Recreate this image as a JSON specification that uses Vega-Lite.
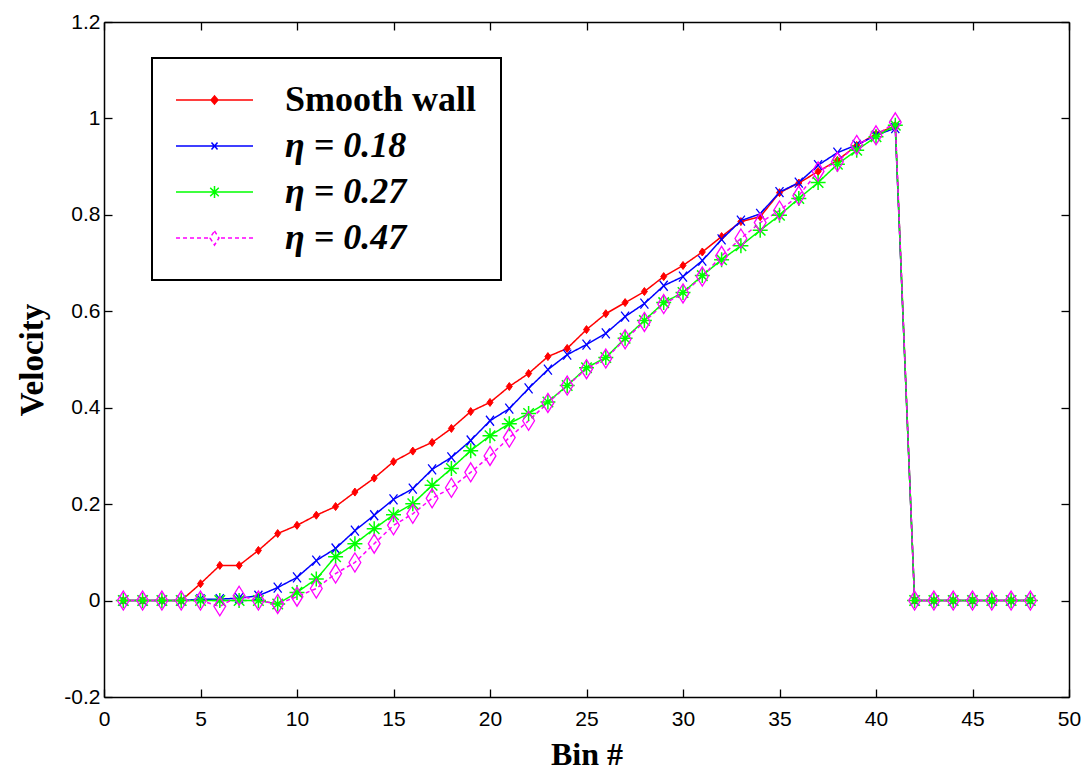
{
  "$schema": "https://vega.github.io/schema/vega-lite/v6.json",
  "width": 965,
  "height": 675,
  "autosize": {"type": "none"},
  "padding": {"left": 104, "top": 22, "right": 20, "bottom": 81},
  "background": "white",
  "data": {
    "values": [
      {"bin": 1, "series": "Smooth wall", "v": 0}, {"bin": 2, "series": "Smooth wall", "v": 0}, {"bin": 3, "series": "Smooth wall", "v": 0}, {"bin": 4, "series": "Smooth wall", "v": 0},
      {"bin": 5, "series": "Smooth wall", "v": 0.035}, {"bin": 6, "series": "Smooth wall", "v": 0.073}, {"bin": 7, "series": "Smooth wall", "v": 0.073}, {"bin": 8, "series": "Smooth wall", "v": 0.104},
      {"bin": 9, "series": "Smooth wall", "v": 0.139}, {"bin": 10, "series": "Smooth wall", "v": 0.156}, {"bin": 11, "series": "Smooth wall", "v": 0.177}, {"bin": 12, "series": "Smooth wall", "v": 0.195},
      {"bin": 13, "series": "Smooth wall", "v": 0.225}, {"bin": 14, "series": "Smooth wall", "v": 0.254}, {"bin": 15, "series": "Smooth wall", "v": 0.288}, {"bin": 16, "series": "Smooth wall", "v": 0.31},
      {"bin": 17, "series": "Smooth wall", "v": 0.328}, {"bin": 18, "series": "Smooth wall", "v": 0.357}, {"bin": 19, "series": "Smooth wall", "v": 0.392}, {"bin": 20, "series": "Smooth wall", "v": 0.411},
      {"bin": 21, "series": "Smooth wall", "v": 0.444}, {"bin": 22, "series": "Smooth wall", "v": 0.471}, {"bin": 23, "series": "Smooth wall", "v": 0.506}, {"bin": 24, "series": "Smooth wall", "v": 0.523},
      {"bin": 25, "series": "Smooth wall", "v": 0.562}, {"bin": 26, "series": "Smooth wall", "v": 0.595}, {"bin": 27, "series": "Smooth wall", "v": 0.618}, {"bin": 28, "series": "Smooth wall", "v": 0.641},
      {"bin": 29, "series": "Smooth wall", "v": 0.672}, {"bin": 30, "series": "Smooth wall", "v": 0.695}, {"bin": 31, "series": "Smooth wall", "v": 0.723}, {"bin": 32, "series": "Smooth wall", "v": 0.755},
      {"bin": 33, "series": "Smooth wall", "v": 0.786}, {"bin": 34, "series": "Smooth wall", "v": 0.796}, {"bin": 35, "series": "Smooth wall", "v": 0.846}, {"bin": 36, "series": "Smooth wall", "v": 0.866},
      {"bin": 37, "series": "Smooth wall", "v": 0.89}, {"bin": 38, "series": "Smooth wall", "v": 0.913}, {"bin": 39, "series": "Smooth wall", "v": 0.944}, {"bin": 40, "series": "Smooth wall", "v": 0.968},
      {"bin": 41, "series": "Smooth wall", "v": 0.985}, {"bin": 42, "series": "Smooth wall", "v": 0}, {"bin": 43, "series": "Smooth wall", "v": 0}, {"bin": 44, "series": "Smooth wall", "v": 0},
      {"bin": 45, "series": "Smooth wall", "v": 0}, {"bin": 46, "series": "Smooth wall", "v": 0}, {"bin": 47, "series": "Smooth wall", "v": 0}, {"bin": 48, "series": "Smooth wall", "v": 0},

      {"bin": 1, "series": "η = 0.18", "v": 0}, {"bin": 2, "series": "η = 0.18", "v": 0}, {"bin": 3, "series": "η = 0.18", "v": 0}, {"bin": 4, "series": "η = 0.18", "v": 0},
      {"bin": 5, "series": "η = 0.18", "v": 0.003}, {"bin": 6, "series": "η = 0.18", "v": 0.003}, {"bin": 7, "series": "η = 0.18", "v": 0.005}, {"bin": 8, "series": "η = 0.18", "v": 0.01},
      {"bin": 9, "series": "η = 0.18", "v": 0.027}, {"bin": 10, "series": "η = 0.18", "v": 0.048}, {"bin": 11, "series": "η = 0.18", "v": 0.083}, {"bin": 12, "series": "η = 0.18", "v": 0.108},
      {"bin": 13, "series": "η = 0.18", "v": 0.145}, {"bin": 14, "series": "η = 0.18", "v": 0.177}, {"bin": 15, "series": "η = 0.18", "v": 0.21}, {"bin": 16, "series": "η = 0.18", "v": 0.232},
      {"bin": 17, "series": "η = 0.18", "v": 0.272}, {"bin": 18, "series": "η = 0.18", "v": 0.297}, {"bin": 19, "series": "η = 0.18", "v": 0.332}, {"bin": 20, "series": "η = 0.18", "v": 0.373},
      {"bin": 21, "series": "η = 0.18", "v": 0.398}, {"bin": 22, "series": "η = 0.18", "v": 0.44}, {"bin": 23, "series": "η = 0.18", "v": 0.479}, {"bin": 24, "series": "η = 0.18", "v": 0.51},
      {"bin": 25, "series": "η = 0.18", "v": 0.531}, {"bin": 26, "series": "η = 0.18", "v": 0.554}, {"bin": 27, "series": "η = 0.18", "v": 0.589}, {"bin": 28, "series": "η = 0.18", "v": 0.616},
      {"bin": 29, "series": "η = 0.18", "v": 0.653}, {"bin": 30, "series": "η = 0.18", "v": 0.672}, {"bin": 31, "series": "η = 0.18", "v": 0.705}, {"bin": 32, "series": "η = 0.18", "v": 0.749},
      {"bin": 33, "series": "η = 0.18", "v": 0.788}, {"bin": 34, "series": "η = 0.18", "v": 0.802}, {"bin": 35, "series": "η = 0.18", "v": 0.847}, {"bin": 36, "series": "η = 0.18", "v": 0.867},
      {"bin": 37, "series": "η = 0.18", "v": 0.903}, {"bin": 38, "series": "η = 0.18", "v": 0.929}, {"bin": 39, "series": "η = 0.18", "v": 0.945}, {"bin": 40, "series": "η = 0.18", "v": 0.965},
      {"bin": 41, "series": "η = 0.18", "v": 0.98}, {"bin": 42, "series": "η = 0.18", "v": 0}, {"bin": 43, "series": "η = 0.18", "v": 0}, {"bin": 44, "series": "η = 0.18", "v": 0},
      {"bin": 45, "series": "η = 0.18", "v": 0}, {"bin": 46, "series": "η = 0.18", "v": 0}, {"bin": 47, "series": "η = 0.18", "v": 0}, {"bin": 48, "series": "η = 0.18", "v": 0},

      {"bin": 1, "series": "η = 0.27", "v": 0}, {"bin": 2, "series": "η = 0.27", "v": 0}, {"bin": 3, "series": "η = 0.27", "v": 0}, {"bin": 4, "series": "η = 0.27", "v": 0},
      {"bin": 5, "series": "η = 0.27", "v": 0}, {"bin": 6, "series": "η = 0.27", "v": 0}, {"bin": 7, "series": "η = 0.27", "v": 0}, {"bin": 8, "series": "η = 0.27", "v": 0},
      {"bin": 9, "series": "η = 0.27", "v": -0.007}, {"bin": 10, "series": "η = 0.27", "v": 0.017}, {"bin": 11, "series": "η = 0.27", "v": 0.045}, {"bin": 12, "series": "η = 0.27", "v": 0.091},
      {"bin": 13, "series": "η = 0.27", "v": 0.118}, {"bin": 14, "series": "η = 0.27", "v": 0.149}, {"bin": 15, "series": "η = 0.27", "v": 0.178}, {"bin": 16, "series": "η = 0.27", "v": 0.201},
      {"bin": 17, "series": "η = 0.27", "v": 0.239}, {"bin": 18, "series": "η = 0.27", "v": 0.274}, {"bin": 19, "series": "η = 0.27", "v": 0.311}, {"bin": 20, "series": "η = 0.27", "v": 0.342},
      {"bin": 21, "series": "η = 0.27", "v": 0.367}, {"bin": 22, "series": "η = 0.27", "v": 0.388}, {"bin": 23, "series": "η = 0.27", "v": 0.412}, {"bin": 24, "series": "η = 0.27", "v": 0.446},
      {"bin": 25, "series": "η = 0.27", "v": 0.483}, {"bin": 26, "series": "η = 0.27", "v": 0.504}, {"bin": 27, "series": "η = 0.27", "v": 0.544}, {"bin": 28, "series": "η = 0.27", "v": 0.581},
      {"bin": 29, "series": "η = 0.27", "v": 0.618}, {"bin": 30, "series": "η = 0.27", "v": 0.639}, {"bin": 31, "series": "η = 0.27", "v": 0.674}, {"bin": 32, "series": "η = 0.27", "v": 0.707},
      {"bin": 33, "series": "η = 0.27", "v": 0.736}, {"bin": 34, "series": "η = 0.27", "v": 0.768}, {"bin": 35, "series": "η = 0.27", "v": 0.799}, {"bin": 36, "series": "η = 0.27", "v": 0.834},
      {"bin": 37, "series": "η = 0.27", "v": 0.867}, {"bin": 38, "series": "η = 0.27", "v": 0.905}, {"bin": 39, "series": "η = 0.27", "v": 0.934}, {"bin": 40, "series": "η = 0.27", "v": 0.962},
      {"bin": 41, "series": "η = 0.27", "v": 0.986}, {"bin": 42, "series": "η = 0.27", "v": 0}, {"bin": 43, "series": "η = 0.27", "v": 0}, {"bin": 44, "series": "η = 0.27", "v": 0},
      {"bin": 45, "series": "η = 0.27", "v": 0}, {"bin": 46, "series": "η = 0.27", "v": 0}, {"bin": 47, "series": "η = 0.27", "v": 0}, {"bin": 48, "series": "η = 0.27", "v": 0},

      {"bin": 1, "series": "η = 0.47", "v": 0}, {"bin": 2, "series": "η = 0.47", "v": 0}, {"bin": 3, "series": "η = 0.47", "v": 0}, {"bin": 4, "series": "η = 0.47", "v": 0},
      {"bin": 5, "series": "η = 0.47", "v": 0}, {"bin": 6, "series": "η = 0.47", "v": -0.012}, {"bin": 7, "series": "η = 0.47", "v": 0.01}, {"bin": 8, "series": "η = 0.47", "v": 0},
      {"bin": 9, "series": "η = 0.47", "v": -0.007}, {"bin": 10, "series": "η = 0.47", "v": 0.008}, {"bin": 11, "series": "η = 0.47", "v": 0.025}, {"bin": 12, "series": "η = 0.47", "v": 0.056},
      {"bin": 13, "series": "η = 0.47", "v": 0.079}, {"bin": 14, "series": "η = 0.47", "v": 0.118}, {"bin": 15, "series": "η = 0.47", "v": 0.156}, {"bin": 16, "series": "η = 0.47", "v": 0.18},
      {"bin": 17, "series": "η = 0.47", "v": 0.212}, {"bin": 18, "series": "η = 0.47", "v": 0.234}, {"bin": 19, "series": "η = 0.47", "v": 0.266}, {"bin": 20, "series": "η = 0.47", "v": 0.3},
      {"bin": 21, "series": "η = 0.47", "v": 0.338}, {"bin": 22, "series": "η = 0.47", "v": 0.373}, {"bin": 23, "series": "η = 0.47", "v": 0.41}, {"bin": 24, "series": "η = 0.47", "v": 0.446},
      {"bin": 25, "series": "η = 0.47", "v": 0.48}, {"bin": 26, "series": "η = 0.47", "v": 0.502}, {"bin": 27, "series": "η = 0.47", "v": 0.542}, {"bin": 28, "series": "η = 0.47", "v": 0.578},
      {"bin": 29, "series": "η = 0.47", "v": 0.615}, {"bin": 30, "series": "η = 0.47", "v": 0.637}, {"bin": 31, "series": "η = 0.47", "v": 0.672}, {"bin": 32, "series": "η = 0.47", "v": 0.715},
      {"bin": 33, "series": "η = 0.47", "v": 0.751}, {"bin": 34, "series": "η = 0.47", "v": 0.784}, {"bin": 35, "series": "η = 0.47", "v": 0.809}, {"bin": 36, "series": "η = 0.47", "v": 0.84},
      {"bin": 37, "series": "η = 0.47", "v": 0.89}, {"bin": 38, "series": "η = 0.47", "v": 0.91}, {"bin": 39, "series": "η = 0.47", "v": 0.945}, {"bin": 40, "series": "η = 0.47", "v": 0.965},
      {"bin": 41, "series": "η = 0.47", "v": 0.992}, {"bin": 42, "series": "η = 0.47", "v": 0}, {"bin": 43, "series": "η = 0.47", "v": 0}, {"bin": 44, "series": "η = 0.47", "v": 0},
      {"bin": 45, "series": "η = 0.47", "v": 0}, {"bin": 46, "series": "η = 0.47", "v": 0}, {"bin": 47, "series": "η = 0.47", "v": 0}, {"bin": 48, "series": "η = 0.47", "v": 0}
    ]
  },
  "layer": [
    {
      "mark": {"type": "line", "strokeWidth": 1.5, "clip": true},
      "encoding": {
        "x": {
          "field": "bin", "type": "quantitative",
          "scale": {"domain": [0, 50], "nice": false, "zero": false},
          "axis": {"orient": "bottom", "values": [0, 5, 10, 15, 20, 25, 30, 35, 40, 45, 50], "title": "Bin #", "titleFontSize": 32, "titlePadding": 10, "labelPadding": 19}
        },
        "y": {
          "field": "v", "type": "quantitative",
          "scale": {"domain": [-0.2, 1.2], "nice": false, "zero": false},
          "axis": {"orient": "left", "values": [-0.2, 0, 0.2, 0.4, 0.6, 0.8, 1, 1.2], "format": ".1~f", "labelExpr": "replace(datum.label, '\u2212', '-')", "title": "Velocity", "titleFontSize": 33, "titlePadding": 14, "labelPadding": 12}
        },
        "stroke": {
          "field": "series", "type": "nominal",
          "scale": {"domain": ["Smooth wall", "η = 0.18", "η = 0.27", "η = 0.47"], "range": ["#ff0000", "#0000ff", "#00ff00", "#ff00ff"]},
          "legend": {
            "orient": "none", "legendX": 48, "legendY": 36, "title": null,
            "padding": 24, "symbolSize": 100, "labelOffset": 73, "rowPadding": 10,
            "fillColor": "#ffffff", "strokeColor": "#000000",
            "labelFont": "Liberation Serif", "labelFontSize": 36, "labelFontWeight": "bold", "labelColor": "#000000", "labelLimit": 500, "labelBaseline": "middle",
            "encode": {
              "legend": {"update": {"strokeWidth": {"value": 2}}},
              "symbols": {
                "update": {
                  "shape": {"signal": "datum.value === 'Smooth wall' ? 'M-3.6,0L11.8,0M4.1,-0.8L4.8,0L4.1,0.8L3.4,0Z' : datum.value === 'η = 0.18' ? 'M-3.6,0L11.8,0M3.5,-0.7L4.7,0.7M3.5,0.7L4.7,-0.7' : datum.value === 'η = 0.27' ? 'M-3.6,0L11.8,0M4.1,-1.2L4.1,1.2M2.9,0L5.3,0M3.25,-0.85L4.95,0.85M3.25,0.85L4.95,-0.85' : 'M-3.6,0L-2.8,0M-2.2,0L-1.4,0M-0.8,0L0,0M0.6,0L1.4,0M2,0L2.8,0M4.1,-1.4L5,0L4.1,1.4L3.2,0ZM5.4,0L6.2,0M6.8,0L7.6,0M8.2,0L9,0M9.6,0L10.4,0M11,0L11.8,0'"},
                  "fill": {"signal": "datum.value === 'Smooth wall' ? '#ff0000' : 'transparent'"},
                  "strokeWidth": {"value": 1.5},
                  "opacity": {"value": 1}
                }
              },
              "labels": {
                "update": {
                  "fontStyle": {"signal": "datum.value === 'Smooth wall' ? 'normal' : 'italic'"}
                }
              }
            }
          }
        },
        "strokeDash": {
          "field": "series", "type": "nominal",
          "scale": {"domain": ["Smooth wall", "η = 0.18", "η = 0.27", "η = 0.47"], "range": [[1, 0], [1, 0], [1, 0], [4, 3]]},
          "legend": null
        }
      }
    },
    {
      "transform": [{"filter": "datum.series === 'Smooth wall'"}],
      "mark": {"type": "point", "shape": "M0,-1L0.75,0L0,1L-0.75,0Z", "size": 64, "filled": true, "fill": "#ff0000", "stroke": "#ff0000", "strokeWidth": 1, "opacity": 1, "clip": true},
      "encoding": {
        "x": {"field": "bin", "type": "quantitative", "axis": null},
        "y": {"field": "v", "type": "quantitative", "axis": null}
      }
    },
    {
      "transform": [{"filter": "datum.series === 'η = 0.18'"}],
      "mark": {"type": "point", "shape": "M-0.8,-1L0.8,1M-0.8,1L0.8,-1", "size": 100, "filled": false, "stroke": "#0000ff", "strokeWidth": 1.3, "opacity": 1, "clip": true},
      "encoding": {
        "x": {"field": "bin", "type": "quantitative", "axis": null},
        "y": {"field": "v", "type": "quantitative", "axis": null}
      }
    },
    {
      "transform": [{"filter": "datum.series === 'η = 0.27'"}],
      "mark": {"type": "point", "shape": "M0,-1L0,1M-1,0L1,0M-0.7,-0.7L0.7,0.7M-0.7,0.7L0.7,-0.7", "size": 225, "filled": false, "stroke": "#00ff00", "strokeWidth": 1.5, "opacity": 1, "clip": true},
      "encoding": {
        "x": {"field": "bin", "type": "quantitative", "axis": null},
        "y": {"field": "v", "type": "quantitative", "axis": null}
      }
    },
    {
      "transform": [{"filter": "datum.series === 'η = 0.47'"}],
      "mark": {"type": "point", "shape": "M0,-1L0.62,0L0,1L-0.62,0Z", "size": 361, "filled": false, "stroke": "#ff00ff", "strokeWidth": 1.3, "opacity": 1, "clip": true},
      "encoding": {
        "x": {"field": "bin", "type": "quantitative", "axis": null},
        "y": {"field": "v", "type": "quantitative", "axis": null}
      }
    },
    {
      "mark": {"type": "point", "opacity": 0},
      "encoding": {
        "x": {"field": "bin", "type": "quantitative", "axis": {"orient": "top", "values": [0, 5, 10, 15, 20, 25, 30, 35, 40, 45, 50], "labels": false, "title": null}},
        "y": {"field": "v", "type": "quantitative", "axis": {"orient": "right", "values": [-0.2, 0, 0.2, 0.4, 0.6, 0.8, 1, 1.2], "labels": false, "title": null}}
      }
    }
  ],
  "resolve": {"axis": {"x": "independent", "y": "independent"}},
  "config": {
    "view": {"stroke": null},
    "axis": {
      "grid": false,
      "domainColor": "#000000", "domainWidth": 1.5,
      "tickColor": "#000000", "tickWidth": 1.3, "tickSize": -8,
      "labelFont": "Liberation Sans", "labelFontSize": 21, "labelColor": "#000000",
      "labelFlush": false, "labelOverlap": false,
      "titleFont": "Liberation Serif", "titleFontWeight": "bold", "titleColor": "#000000"
    }
  }
}
